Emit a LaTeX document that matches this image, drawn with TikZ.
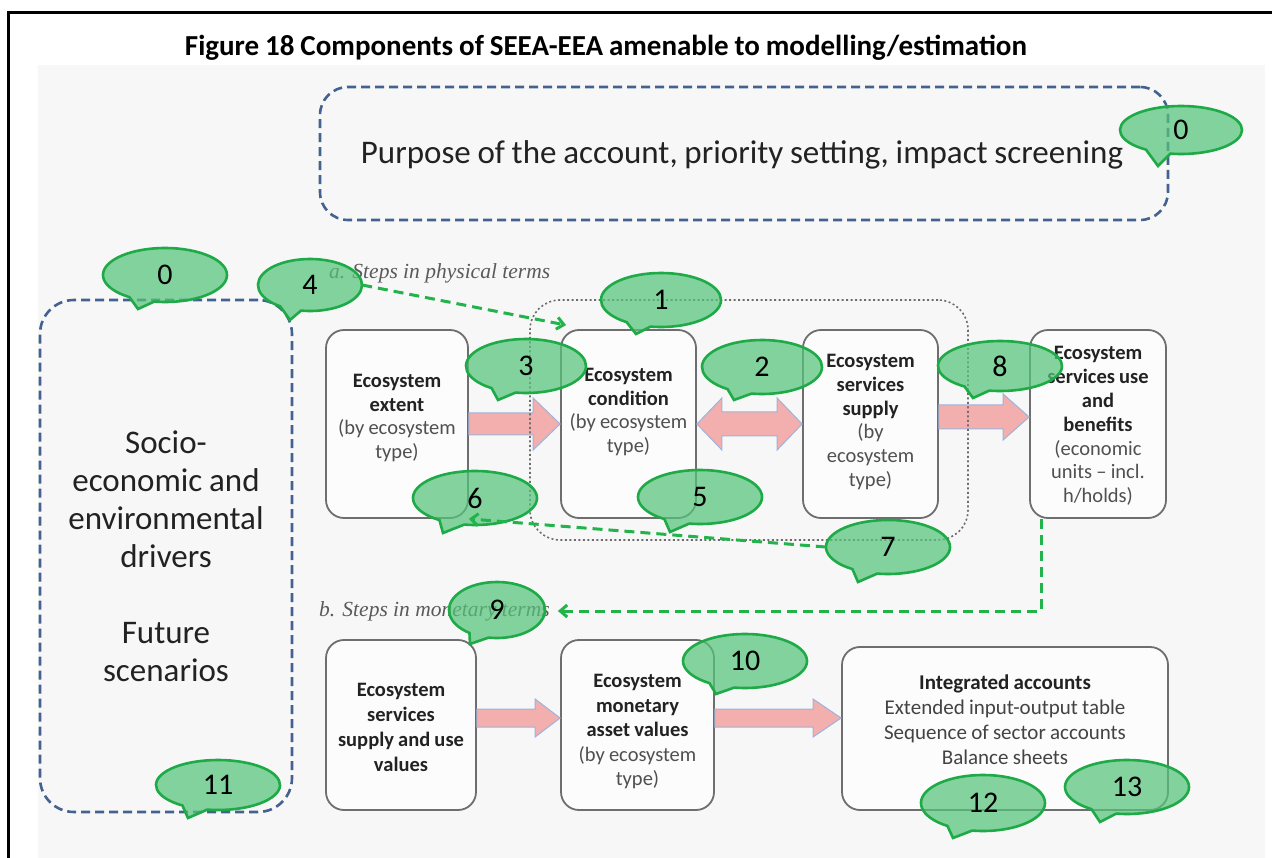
\documentclass[tikz,border=0pt]{standalone}
\usepackage{fontspec}
\setmainfont{Carlito}[WordSpace=0.9]
\newfontfamily\stepfont{Liberation Serif}
\usetikzlibrary{arrows.meta,shapes.geometric,calc}
\definecolor{bg}{HTML}{F7F7F7}
\definecolor{dblue}{HTML}{44628F}
\definecolor{bgreen}{HTML}{56C47B}
\definecolor{bgreenline}{HTML}{1FAA48}
\definecolor{pinkf}{HTML}{F3AEAE}
\definecolor{pinkl}{HTML}{9DB3DC}
\definecolor{boxline}{HTML}{6E6E6E}
\definecolor{txt}{HTML}{222222}
\definecolor{subtxt}{HTML}{505050}
\definecolor{stepgray}{HTML}{5A5A5A}
\definecolor{gdash}{HTML}{22B34A}
\tikzset{
 dbox/.style={draw=dblue, line width=2.6pt, dash pattern=on 9pt off 5pt, rounded corners=28pt, text=txt, align=flush center, inner sep=0},
 ebox/.style={draw=boxline, line width=1.8pt, rounded corners=18pt, fill=white!60!bg, inner sep=0},
 boxtext/.style={align=flush center, text=txt, font=\fontsize{20.5}{23.8}\selectfont, inner sep=0},
 blockar/.style={fill=pinkf, draw=pinkl, line width=1pt},
 bubbleshape/.style={fill=bgreen, fill opacity=0.72, draw=bgreenline, draw opacity=1, line width=2.6pt},
 bubblenum/.style={ellipse, inner sep=0, text=black, font=\fontsize{30}{34}\selectfont},
 gconn/.style={draw=gdash, line width=3pt, dash pattern=on 10pt off 6pt, -{Straight Barb[length=7pt,width=12pt]}},
 steplbl/.style={font=\stepfont\itshape\fontsize{21.5}{24}\selectfont, text=stepgray, inner sep=0, anchor=west},
}
% name, cx, cy, rx, ry, tip, label
\newcommand\bubble[7]{%
 \path[bubbleshape] ([shift={(#2,#3)}]100:#4 and #5) -- (#6) -- ([shift={(#2,#3)}]125:#4 and #5) arc[start angle=125,end angle=460,x radius=#4,y radius=#5] -- cycle;
 \node[bubblenum, minimum width={2*#4pt}, minimum height={2*#5pt}] (#1) at (#2,#3) {#7};}
% from, to, shaft half, head half, head length
\newcommand\rarrow[5]{%
 \draw[blockar] let \p1=(#1), \p2=(#2) in (\x1,\y1+#3pt) -- (\x2-#5pt,\y1+#3pt) -- (\x2-#5pt,\y1+#4pt) -- (\x2,\y1) -- (\x2-#5pt,\y1-#4pt) -- (\x2-#5pt,\y1-#3pt) -- (\x1,\y1-#3pt) -- cycle;}
\newcommand\darrow[5]{%
 \draw[blockar] let \p1=(#1), \p2=(#2) in (\x1,\y1) -- (\x1+#5pt,\y1+#4pt) -- (\x1+#5pt,\y1+#3pt) -- (\x2-#5pt,\y1+#3pt) -- (\x2-#5pt,\y1+#4pt) -- (\x2,\y1) -- (\x2-#5pt,\y1-#4pt) -- (\x2-#5pt,\y1-#3pt) -- (\x1+#5pt,\y1-#3pt) -- (\x1+#5pt,\y1-#4pt) -- cycle;}
\begin{document}
\begin{tikzpicture}[x=1pt,y=-1pt]
\useasboundingbox (0,0) rectangle (1272,858);
\fill[white] (0,0) rectangle (1272,858);
\fill[bg] (38,65) rectangle (1265,858);
\draw[line width=3pt] (8,858) -- (8,13) -- (1272,13);
\node[font=\bfseries\fontsize{29}{33}\selectfont] (title) at (606,48) {Figure 18 Components of SEEA-EEA amenable to modelling/estimation};
% dashed blue boxes
\node[dbox, minimum width=848pt, minimum height=133pt] (purp) at (744,153.5) {};
\node[font=\fontsize{33}{38}\selectfont, text=txt, inner sep=0] (purpT) at (742,155) {Purpose of the account, priority setting, impact screening};
\node[dbox, rounded corners=34pt, minimum width=252pt, minimum height=512pt, text width=246pt, font=\fontsize{33}{38}\selectfont] (drv) at (166,556) {Socio-\\economic and\\environmental\\drivers\\[38pt]Future\\scenarios};
% step labels
\node[steplbl] (stepa) at (329,273) {a. Steps in physical terms};
\node[steplbl] (stepb) at (319,611) {b. Steps in monetary terms};
% boxes row 1
\node[ebox, minimum width=142pt, minimum height=188pt] (ext) at (397,424) {};
\node[ebox, minimum width=135pt, minimum height=188pt] (cond) at (628.5,424) {};
\node[ebox, minimum width=135pt, minimum height=188pt] (sup) at (870.5,424) {};
\node[ebox, minimum width=136pt, minimum height=188pt] (use) at (1098,424) {};
\node[boxtext, text width=140pt] (extT) at (397,418) {\textbf{Ecosystem\\extent}\\{\color{subtxt}(by ecosystem\\type)}};
\node[boxtext, text width=134pt] (condT) at (628.5,412) {\textbf{Ecosystem\\condition}\\{\color{subtxt}(by ecosystem\\type)}};
\node[boxtext, text width=134pt] (supT) at (870.5,422) {\textbf{Ecosystem\\services\\supply}\\{\color{subtxt}(by\\ecosystem\\type)}};
\node[boxtext, text width=134pt] (useT) at (1098,426) {\textbf{Ecosystem\\services use\\and\\benefits}\\{\color{subtxt}(economic\\units -- incl.\\h/holds)}};
% boxes row 2
\node[ebox, minimum width=150pt, minimum height=170pt] (esv) at (401,725) {};
\node[ebox, minimum width=153pt, minimum height=170pt] (mon) at (637.5,725) {};
\node[ebox, minimum width=326pt, minimum height=163pt] (intg) at (1005,728.5) {};
\node[boxtext, text width=148pt, font=\fontsize{20.5}{25}\selectfont] (esvT) at (401,727) {\textbf{Ecosystem\\services\\supply and use\\values}};
\node[boxtext, text width=150pt, font=\fontsize{20.5}{24.5}\selectfont] (monT) at (637.5,732) {\textbf{Ecosystem\\monetary\\asset values}\\{\color{subtxt}(by ecosystem\\type)}};
\node[boxtext, text width=320pt, font=\fontsize{21}{25}\selectfont] (intgT) at (1005,720) {\textbf{Integrated accounts}\\{\color{txt!85!white}Extended input-output table\\Sequence of sector accounts\\Balance sheets}};
% block arrows
\rarrow{ext.east}{cond.west}{11}{26}{27}
\darrow{cond.east}{sup.west}{12}{26}{25}
\rarrow{$(sup.east)+(0,-7)$}{use.west}{12}{23}{26}
\rarrow{$(esv.east)+(0,-7)$}{mon.west}{9}{19}{25}
\rarrow{$(mon.east)+(0,-7)$}{intg.west}{9}{19}{28}
% dotted group
\node[draw=gray!85!black, line width=1.6pt, dash pattern=on 2pt off 2.5pt, rounded corners=30pt, minimum width=438pt, minimum height=240pt, inner sep=0] (grp) at (749,420) {};
% bubbles
\bubble{b0t}{1181}{130}{61}{24}{1158,166}{0}
\bubble{b0l}{165}{275}{62}{27}{138,309}{0}
\bubble{b4}{310}{285}{52}{26}{290,320}{4}
\bubble{b1}{661}{300}{60}{27}{636,334}{1}
\bubble{b3}{526}{366}{60}{27}{498,400}{3}
\bubble{b2}{762}{367}{60}{27}{734,400}{2}
\bubble{b8}{1000}{366}{62}{25}{973,398}{8}
\bubble{b6}{475}{498}{62}{27}{443,533}{6}
\bubble{b5}{700}{497}{62}{27}{670,532}{5}
\bubble{b7}{888}{547}{62}{27}{858,582}{7}
\bubble{b9}{497}{610}{48}{28}{470,644}{9}
\bubble{b10}{745}{661}{62}{27}{716,694}{10}
\bubble{b11}{218}{785}{62}{25}{188,818}{11}
\bubble{b12}{983}{803}{62}{28}{953,838}{12}
\bubble{b13}{1127}{787}{62}{27}{1100,822}{13}
% green dashed connectors
\draw[gconn] (b4.east) -- ($(cond.north west)+(6,-4)$);
\draw[gconn] (b7.west) -- (ext.south east);
\draw[gconn] ($(use.south west)+(12,0)$) |- ($(stepb.east)+(8,0)$);
\end{tikzpicture}
\end{document}
